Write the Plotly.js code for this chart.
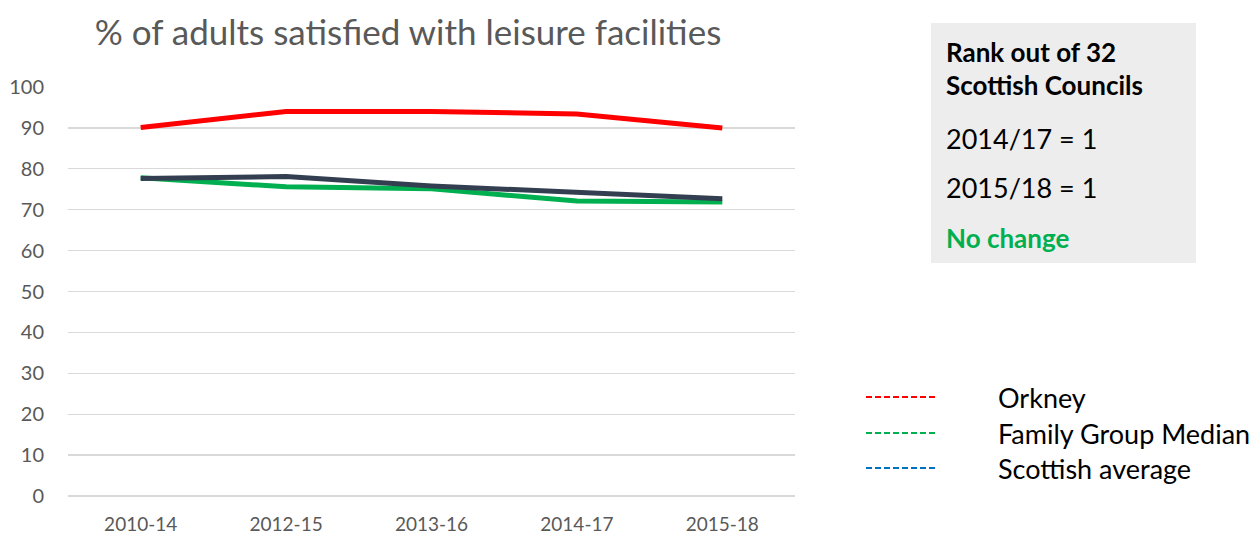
<!DOCTYPE html>
<html><head><meta charset="utf-8">
<script src="https://cdn.plot.ly/plotly-3.0.1.min.js"></script>
<style>body{margin:0;background:#fff}#chart{width:1257px;height:536px}</style>
</head><body><div id="chart"></div>
<script>
const categories = ["2010-14","2012-15","2013-16","2014-17","2015-18"];
const orkney = [90.1, 94.0, 94.0, 93.4, 90.0];
const familyGroupMedian = [77.8, 75.6, 75.1, 72.1, 71.9];
const scottishAverage = [77.6, 78.1, 75.8, 74.1, 72.7];
const legendNames = ["Orkney","Family Group Median","Scottish average"];
const legendColors = ["#ff0000","#00b050","#0070c0"];
const yTicks = [0,10,20,30,40,50,60,70,80,90,100];
const rankLines = ["Rank out of 32","Scottish Councils","2014/17 = 1","2015/18 = 1","No change"];

const W=1257,H=536,L=68,R=795,T=87,B=496;
const px=x=>(x-L)/(R-L), py=y=>(B-y)/(B-T);
const FONT="Lato, 'Open Sans', sans-serif";

const traces=[
 {x:categories,y:orkney,name:legendNames[0],mode:"lines",line:{color:"#ff0000",width:5}},
 {x:categories,y:familyGroupMedian,name:legendNames[1],mode:"lines",line:{color:"#00b050",width:5}},
 {x:categories,y:scottishAverage,name:legendNames[2],mode:"lines",line:{color:"#333f50",width:5}}
];

const shapes=[{type:"rect",xref:"paper",yref:"paper",x0:px(931),x1:px(1196),y0:py(263),y1:py(23),fillcolor:"#ededed",line:{width:0},layer:"below"}];
const annotations=[];
const rankY=[52,85,138,187,238];
rankLines.forEach((t,i)=>{
  annotations.push({xref:"paper",yref:"paper",x:px(944),y:py(rankY[i]),xanchor:"left",yanchor:"middle",showarrow:false,
    text:(i<2||i==4)?"<b>"+t+"</b>":t,font:{family:FONT,size:(i<2||i==4)?26:27,color:i==4?"#00b050":"#000000"}});
});
const legY=[397,433,468];
legendNames.forEach((n,i)=>{
  shapes.push({type:"line",xref:"paper",yref:"paper",x0:px(866),x1:px(936),y0:py(legY[i]),y1:py(legY[i]),line:{color:legendColors[i],width:2,dash:"6px,3px"}});
  annotations.push({xref:"paper",yref:"paper",x:px(996),y:py(legY[i]),xanchor:"left",yanchor:"middle",showarrow:false,text:n,font:{family:FONT,size:27,color:"#000000"}});
});

const layout={width:W,height:H,margin:{l:L,r:W-R,t:T,b:H-B},paper_bgcolor:"#fff",plot_bgcolor:"#fff",showlegend:false,
 font:{family:FONT,color:"#595959"},
 title:{text:"% of adults satisfied with leisure facilities",font:{family:FONT,size:35,color:"#595959"},xref:"container",yref:"container",x:408/W,xanchor:"center",y:1-33/H,yanchor:"middle"},
 xaxis:{type:"category",range:[-0.5,4.5],showgrid:false,zeroline:false,showline:false,ticks:"outside",ticklen:11,tickcolor:"rgba(0,0,0,0)",tickfont:{size:19,color:"#595959"},fixedrange:true},
 yaxis:{range:[0,100],tickvals:yTicks,showgrid:true,gridcolor:"#d9d9d9",gridwidth:1.3,zeroline:true,zerolinecolor:"#d9d9d9",zerolinewidth:1.3,showline:false,ticks:"outside",ticklen:19,tickcolor:"rgba(0,0,0,0)",tickfont:{size:20,color:"#595959"},fixedrange:true},
 shapes:shapes,annotations:annotations};
Plotly.newPlot("chart",traces,layout,{displayModeBar:false,staticPlot:true});
</script></body></html>
